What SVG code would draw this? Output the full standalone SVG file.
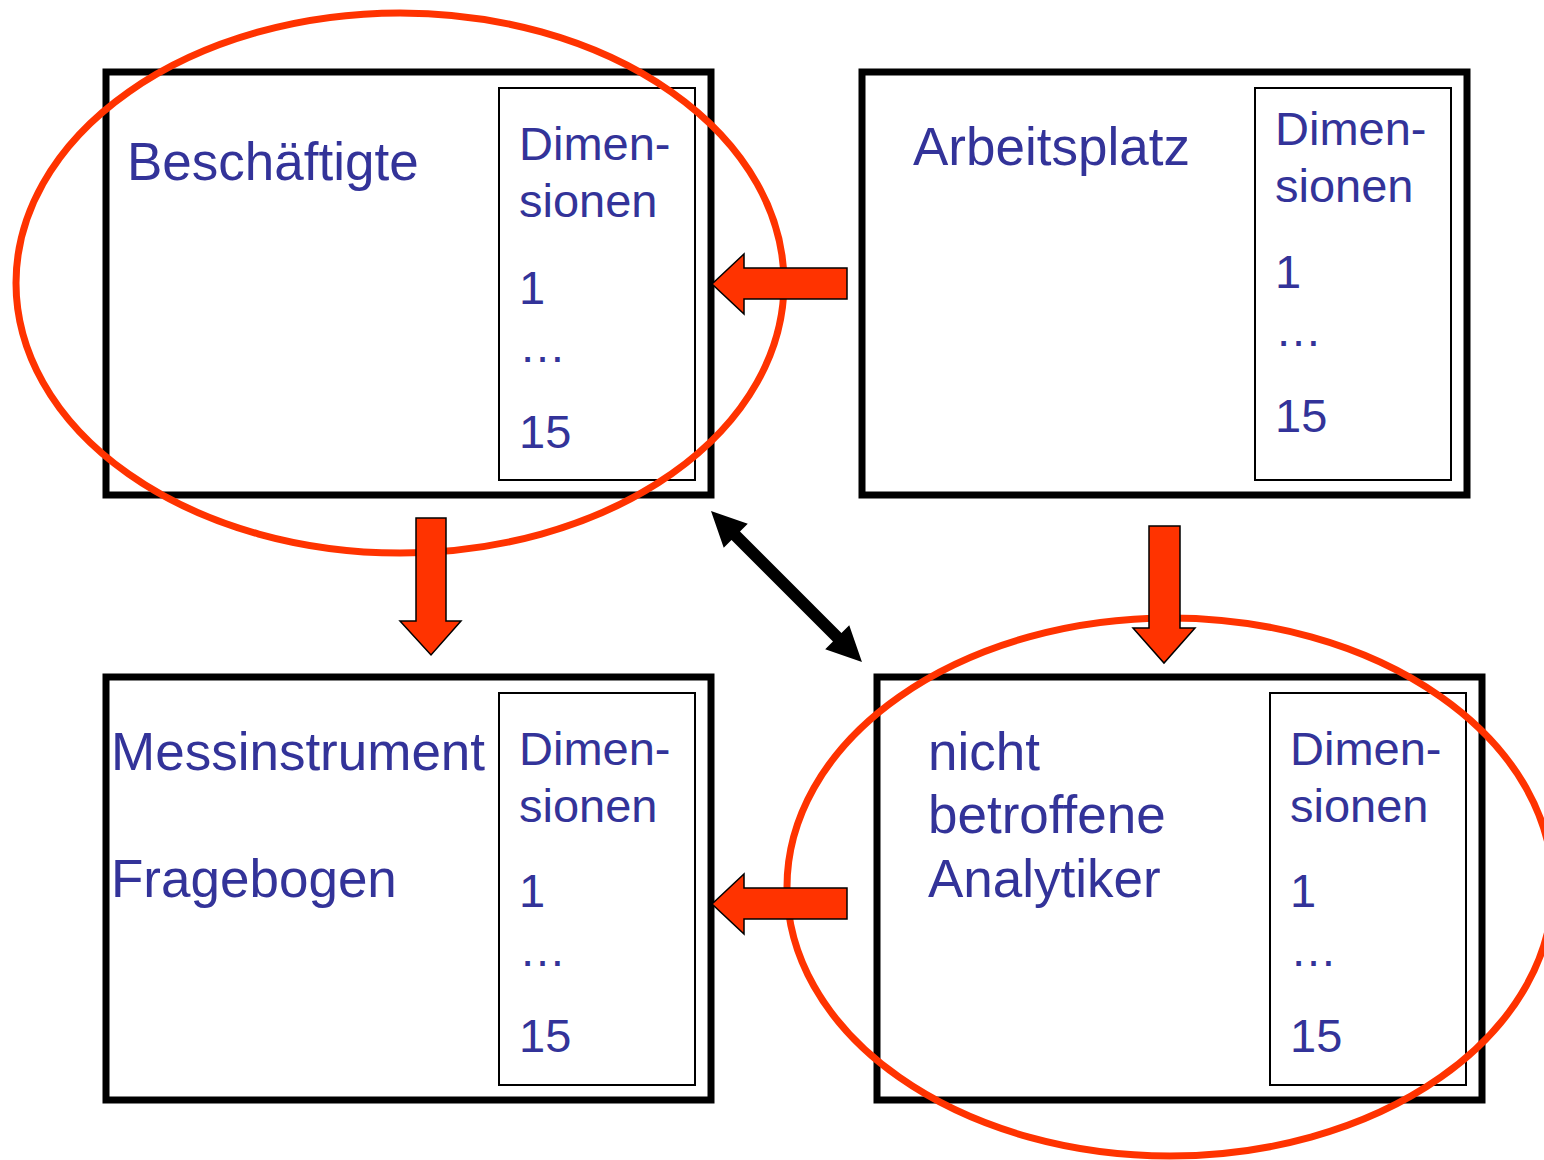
<svg xmlns="http://www.w3.org/2000/svg" width="1544" height="1160" viewBox="0 0 1544 1160">
  <style>
    .outer { fill: #ffffff; stroke: #000000; stroke-width: 7; }
    .inner { fill: #ffffff; stroke: #000000; stroke-width: 2; }
    .lbl { font-family: "Liberation Sans", Arial, sans-serif; font-size: 53px; fill: #333399; }
    .dim { font-family: "Liberation Sans", Arial, sans-serif; font-size: 47px; fill: #333399; }
    .ring { fill: none; stroke: #ff3300; stroke-width: 7; }
    .red { fill: #ff3300; stroke: #000000; stroke-width: 1.5; stroke-linejoin: miter; }
    .blk { fill: #000000; }
  </style>

  <!-- Beschäftigte -->
  <g id="beschaeftigte">
    <rect class="outer" x="106" y="72" width="605" height="423"/>
    <rect class="inner" x="499" y="88" width="196" height="392"/>
    <text class="lbl" x="127" y="180">Beschäftigte</text>
    <text class="dim" x="519" y="160">Dimen-</text>
    <text class="dim" x="519" y="217">sionen</text>
    <text class="dim" x="519" y="304">1</text>
    <text class="dim" x="519" y="362">…</text>
    <text class="dim" x="519" y="448">15</text>
  </g>

  <!-- Arbeitsplatz -->
  <g id="arbeitsplatz">
    <rect class="outer" x="862" y="72" width="605" height="423"/>
    <rect class="inner" x="1255" y="88" width="196" height="392"/>
    <text class="lbl" x="913" y="165">Arbeitsplatz</text>
    <text class="dim" x="1275" y="145">Dimen-</text>
    <text class="dim" x="1275" y="202">sionen</text>
    <text class="dim" x="1275" y="288">1</text>
    <text class="dim" x="1275" y="346">…</text>
    <text class="dim" x="1275" y="432">15</text>
  </g>

  <!-- Messinstrument / Fragebogen -->
  <g id="messinstrument">
    <rect class="outer" x="106" y="677" width="605" height="423"/>
    <rect class="inner" x="499" y="693" width="196" height="392"/>
    <text class="lbl" x="111" y="770">Messinstrument</text>
    <text class="lbl" x="111" y="897">Fragebogen</text>
    <text class="dim" x="519" y="765">Dimen-</text>
    <text class="dim" x="519" y="822">sionen</text>
    <text class="dim" x="519" y="907">1</text>
    <text class="dim" x="519" y="966">…</text>
    <text class="dim" x="519" y="1052">15</text>
  </g>

  <!-- nicht betroffene Analytiker -->
  <g id="analytiker">
    <rect class="outer" x="877" y="677" width="605" height="423"/>
    <rect class="inner" x="1270" y="693" width="196" height="392"/>
    <text class="lbl" x="928" y="770">nicht</text>
    <text class="lbl" x="928" y="833">betroffene</text>
    <text class="lbl" x="928" y="897">Analytiker</text>
    <text class="dim" x="1290" y="765">Dimen-</text>
    <text class="dim" x="1290" y="822">sionen</text>
    <text class="dim" x="1290" y="907">1</text>
    <text class="dim" x="1290" y="966">…</text>
    <text class="dim" x="1290" y="1052">15</text>
  </g>

  <!-- highlight rings -->
  <g id="rings">
    <ellipse class="ring" cx="400" cy="283" rx="384" ry="270"/>
    <ellipse class="ring" cx="1170" cy="887" rx="383" ry="269"/>
  </g>

  <!-- connectors -->
  <g id="connectors">
    <!-- Arbeitsplatz -> Beschäftigte -->
    <polygon class="red" points="712,284 744,254 744,268 847,268 847,299 744,299 744,314"/>
    <!-- Beschäftigte -> Messinstrument -->
    <polygon class="red" points="416,518 446,518 446,621 461,621 431,655 400,621 416,621"/>
    <!-- Arbeitsplatz -> Analytiker -->
    <polygon class="red" points="1149,526 1180,526 1180,628 1195,628 1164,663 1133,628 1149,628"/>
    <!-- Analytiker -> Messinstrument -->
    <polygon class="red" points="712,904 744,874 744,888 847,888 847,919 744,919 744,934"/>
    <!-- Beschäftigte <-> Analytiker -->
    <polygon class="blk" transform="translate(711,511) rotate(45)" points="0,0 35,-17 35,-6 178.5,-6 178.5,-17 213.5,0 178.5,17 178.5,6 35,6 35,17"/>
  </g>
</svg>
